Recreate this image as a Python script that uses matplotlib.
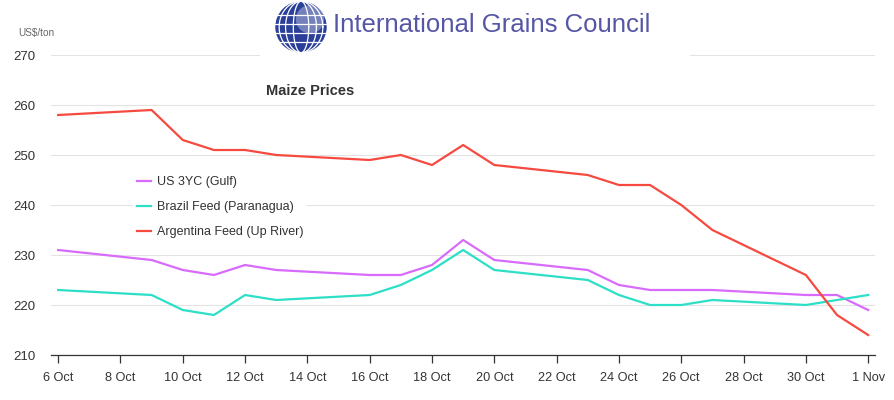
import datetime as dt

import matplotlib
matplotlib.use("Agg")
import matplotlib.dates as mdates
import matplotlib.pyplot as plt
import numpy as np
from matplotlib.patches import Circle, Rectangle

plt.rcParams["font.family"] = ["Liberation Sans", "DejaVu Sans"]

# trading days, Oct 2017
dates = ["2017-10-06", "2017-10-09", "2017-10-10", "2017-10-11", "2017-10-12",
         "2017-10-13", "2017-10-16", "2017-10-17", "2017-10-18", "2017-10-19",
         "2017-10-20", "2017-10-23", "2017-10-24", "2017-10-25", "2017-10-26",
         "2017-10-27", "2017-10-30", "2017-10-31", "2017-11-01"]
us_gulf = [231, 229, 227, 226, 228, 227, 226, 226, 228, 233,
           229, 227, 224, 223, 223, 223, 222, 222, 219]
brazil = [223, 222, 219, 218, 222, 221, 222, 224, 227, 231,
          227, 225, 222, 220, 220, 221, 220, 221, 222]
argentina = [258, 259, 253, 251, 251, 250, 249, 250, 248, 252,
             248, 246, 244, 244, 240, 235, 226, 218, 214]
series_names = ["US 3YC (Gulf)", "Brazil Feed (Paranagua)", "Argentina Feed (Up River)"]
series_colors = ["#d86bfb", "#2ddfc6", "#f64a40"]
yticks = [210, 220, 230, 240, 250, 260, 270]

x = [dt.datetime.strptime(d, "%Y-%m-%d") for d in dates]

fig = plt.figure(figsize=(8.95, 4.0), dpi=100)
ax = fig.add_axes([0.057, 0.1125, 0.921, 0.75])

for vals, name, col in zip([us_gulf, brazil, argentina], series_names, series_colors):
    ax.plot(x, vals, color=col, linewidth=1.6, label=name, zorder=3)

ax.set_ylim(210, 270)
ax.set_yticks(yticks)
pad = dt.timedelta(hours=5.5)
ax.set_xlim(x[0] - pad, x[-1] + pad)
ticks = [x[0] + dt.timedelta(days=2 * i) for i in range(14)]
ax.set_xticks(ticks)
ax.xaxis.set_major_formatter(mdates.DateFormatter("%-d %b"))

ax.grid(axis="y", color="#e3e3e3", linewidth=0.8)
ax.set_axisbelow(True)
for s in ["top", "right", "left"]:
    ax.spines[s].set_visible(False)
ax.spines["bottom"].set_color("#333333")
ax.spines["bottom"].set_linewidth(0.9)
ax.tick_params(axis="y", length=0, pad=11, labelsize=9.5, labelcolor="#333333")
ax.tick_params(axis="x", length=6, width=0.9, color="#333333", pad=6,
               labelsize=9.2, labelcolor="#333333")

fig.text(0.020, 0.918, "US\\$/ton", fontsize=7.2, color="#666666", va="center")
fig.text(0.347, 0.772, "Maize Prices", fontsize=10.5, fontweight="bold",
         color="#333333", ha="center", va="center")

leg = ax.legend(loc="upper left", bbox_to_anchor=(0.142, 0.585),
                bbox_transform=fig.transFigure, frameon=True, fontsize=9,
                handlelength=1.1, handletextpad=0.5, labelspacing=1.05,
                borderpad=0.3)
leg.get_frame().set_edgecolor("none")
leg.get_frame().set_facecolor("white")
leg.get_frame().set_alpha(1)
for t in leg.get_texts():
    t.set_color("#333333")

# white band behind the logo
fig.patches.append(Rectangle((260 / 895, 1 - 62 / 400), 430 / 895, 62 / 400,
                             transform=fig.transFigure, facecolor="white",
                             edgecolor="none", zorder=5))

# globe logo
lax = fig.add_axes([274 / 895, 1 - 54 / 400, 54 / 895, 54 / 400], zorder=6)
lax.set_xlim(-1.05, 1.05)
lax.set_ylim(-1.05, 1.05)
lax.set_aspect("equal")
lax.axis("off")
lax.add_patch(Circle((0, 0), 1, facecolor="#2a3f98", edgecolor="none"))
t = np.linspace(0, 2 * np.pi, 200)
for k in [0.3, 0.6, 0.85]:
    lax.plot(k * np.cos(t), np.sin(t), color="white", lw=0.9)
for yy in [-0.6, -0.25, 0.1, 0.45]:
    w = np.sqrt(1 - yy ** 2)
    lax.plot([-w, w], [yy, yy], color="white", lw=0.9)
lax.add_patch(Circle((0.35, 0.3), 0.55, facecolor="white", edgecolor="none", alpha=0.35))

fig.text(333 / 895, 1 - 25 / 400, "International Grains Council", fontsize=18.5,
         color="#5656a6", va="center", ha="left", zorder=7)

fig.savefig("out.png", dpi=100, facecolor="white")
